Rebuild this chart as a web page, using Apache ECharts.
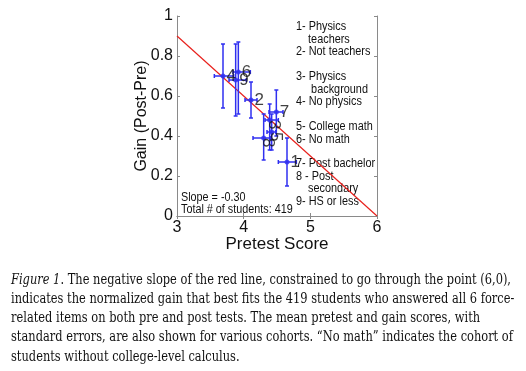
<!DOCTYPE html>
<html><head><meta charset="utf-8">
<script src="https://cdn.jsdelivr.net/npm/echarts@6/dist/echarts.min.js"></script>
<style>html,body{margin:0;padding:0;background:#fff}#c{width:526px;height:371px}</style>
</head><body><div id="c"></div>
<script>
// ---- data ----
const cohortIds = ['1','2','3','4','5','6','7','8','9'];
const pretest   = [4.65, 4.11, 4.39, 3.69, 4.42, 3.92, 4.49, 4.30, 3.88];
const gain      = [0.27, 0.58, 0.48, 0.70, 0.42, 0.72, 0.52, 0.39, 0.68];
const pretestLo = [4.52, 4.02, 4.32, 3.56, 4.35, 3.84, 4.38, 4.14, 3.78];
const pretestHi = [4.79, 4.20, 4.52, 3.85, 4.48, 4.10, 4.59, 4.40, 4.04];
const gainLo    = [0.15, 0.49, 0.33, 0.54, 0.33, 0.51, 0.40, 0.28, 0.50];
const gainHi    = [0.39, 0.67, 0.56, 0.86, 0.51, 0.87, 0.63, 0.51, 0.86];
const fitX = [3, 6];
const fitY = [0.9, 0];
const xTicks = [3, 4, 5, 6];
const yTicks = [0, 0.2, 0.4, 0.6, 0.8, 1];
const legendLines = ['1- Physics','    teachers','2- Not teachers','','3- Physics','     background','4- No physics','','5- College math','6- No math','','7- Post bachelor','8 - Post','    secondary','9- HS or less'];
const statLines = ['Slope = -0.30','Total # of students: 419'];
const captionItalic = 'Figure 1';
const captionLines = [
  '. The negative slope of the red line, constrained to go through the point (6,0),',
  'indicates the normalized gain that best fits the 419 students who answered all 6 force-',
  'related items on both pre and post tests. The mean pretest and gain scores, with',
  'standard errors, are also shown for various cohorts. \u201cNo math\u201d indicates the cohort of',
  'students without college-level calculus.'
];
const rotatedLabels = ['3','5','8'];

// ---- chart ----
const chart = echarts.init(document.getElementById('c'));
const F = 'Liberation Sans, Arial, sans-serif';
const blue = '#2f2ff0';

// caption scale
const capFont = 'DejaVu Serif';
const capSize = 15;
const cv = document.createElement('canvas').getContext('2d');
cv.font = 'italic ' + capSize + 'px "' + capFont + '"';
let w1 = cv.measureText(captionItalic).width;
cv.font = capSize + 'px "' + capFont + '"';
w1 += cv.measureText(captionLines[0]).width;
const capScale = 500 / w1;

const graphics = [];
captionLines.forEach((t, i) => {
  graphics.push({
    type: 'text', x: 11, y: 280 + i * 19.2, scaleX: capScale, silent: true,
    style: {
      text: (i === 0 ? '{it|' + captionItalic + '}' : '') + t,
      x: 0, y: 0, verticalAlign: 'middle', fill: '#111',
      font: capSize + 'px "' + capFont + '"',
      rich: { it: { fontStyle: 'italic', fontFamily: capFont, fontSize: capSize, fill: '#111' } }
    }
  });
});
legendLines.forEach((t, i) => {
  if (!t) return;
  graphics.push({ type: 'text', x: 296, y: 27 + i * 12.45, scaleX: 0.87, silent: true,
    style: { text: t, fill: '#111', font: '12.5px ' + F, verticalAlign: 'middle' } });
});
statLines.forEach((t, i) => {
  graphics.push({ type: 'text', x: 181, y: 197.5 + i * 12, scaleX: 0.9, silent: true,
    style: { text: t, fill: '#111', font: '12px ' + F, verticalAlign: 'middle' } });
});

const errData = cohortIds.map((id, i) => [pretest[i], gain[i], pretestLo[i], pretestHi[i], gainLo[i], gainHi[i]]);
const ptData = cohortIds.map((id, i) => {
  const rot = rotatedLabels.includes(id);
  return { value: [pretest[i], gain[i]], name: id,
    label: rot ? { rotate: -90, distance: 2 } : {} };
});

const axisLineStyle = { color: '#8a8a8a', width: 1 };
chart.setOption({
  animation: false,
  grid: { left: 177, right: 149, top: 16, bottom: 155, containLabel: false },
  xAxis: [{
    type: 'value', min: 3, max: 6, interval: 1, position: 'bottom',
    name: 'Pretest Score', nameLocation: 'middle', nameGap: 20, nameMoveOverlap: false,
    nameTextStyle: { fontFamily: F, fontSize: 17, color: '#111' },
    axisLine: { show: true, lineStyle: axisLineStyle },
    axisTick: { show: true, inside: true, length: 3, lineStyle: axisLineStyle },
    axisLabel: { fontFamily: F, fontSize: 16, color: '#111', margin: 4 },
    splitLine: { show: false }
  }, {
    type: 'value', min: 3, max: 6, interval: 1, position: 'top',
    axisLine: { show: true, lineStyle: axisLineStyle },
    axisTick: { show: true, inside: true, length: 3, lineStyle: axisLineStyle },
    axisLabel: { show: false }, splitLine: { show: false }
  }],
  yAxis: [{
    type: 'value', min: 0, max: 1, interval: 0.2, position: 'left',
    name: 'Gain (Post-Pre)', nameLocation: 'middle', nameGap: 27, nameRotate: 90, nameMoveOverlap: false,
    nameTextStyle: { fontFamily: F, fontSize: 16, color: '#111' },
    axisLine: { show: true, lineStyle: axisLineStyle },
    axisTick: { show: true, inside: true, length: 3, lineStyle: axisLineStyle },
    axisLabel: { fontFamily: F, fontSize: 16, color: '#111', margin: 4,
      formatter: v => String(Math.round(v * 10) / 10) },
    splitLine: { show: false }
  }, {
    type: 'value', min: 0, max: 1, interval: 0.2, position: 'right',
    axisLine: { show: true, lineStyle: axisLineStyle },
    axisTick: { show: true, inside: true, length: 3, lineStyle: axisLineStyle },
    axisLabel: { show: false }, splitLine: { show: false }
  }],
  series: [{
    type: 'line', data: fitX.map((x, i) => [x, fitY[i]]), symbol: 'none',
    lineStyle: { color: '#e8211d', width: 1.2 }, silent: true, z: 3
  }, {
    type: 'custom', data: errData, z: 4, silent: true,
    renderItem: (params, api) => {
      const x = api.value(0), y = api.value(1);
      const a = api.coord([api.value(2), y]), b = api.coord([api.value(3), y]);
      const c = api.coord([x, api.value(4)]), d = api.coord([x, api.value(5)]);
      const st = { stroke: blue, lineWidth: 1.5 };
      const cap = 2;
      const L = (x1, y1, x2, y2) => ({ type: 'line', shape: { x1, y1, x2, y2 }, style: st });
      return { type: 'group', children: [
        L(a[0], a[1], b[0], b[1]),
        L(a[0], a[1] - cap, a[0], a[1] + cap),
        L(b[0], b[1] - cap, b[0], b[1] + cap),
        L(c[0], c[1], d[0], d[1]),
        L(c[0] - cap, c[1], c[0] + cap, c[1]),
        L(d[0] - cap, d[1], d[0] + cap, d[1])
      ] };
    }
  }, {
    type: 'scatter', data: ptData, symbol: 'circle', symbolSize: 5, z: 5,
    itemStyle: { color: blue },
    label: { show: true, position: 'right', distance: 1, formatter: p => p.name,
      fontFamily: F, fontSize: 17, color: '#111' }
  }],
  graphic: graphics
});
</script></body></html>
